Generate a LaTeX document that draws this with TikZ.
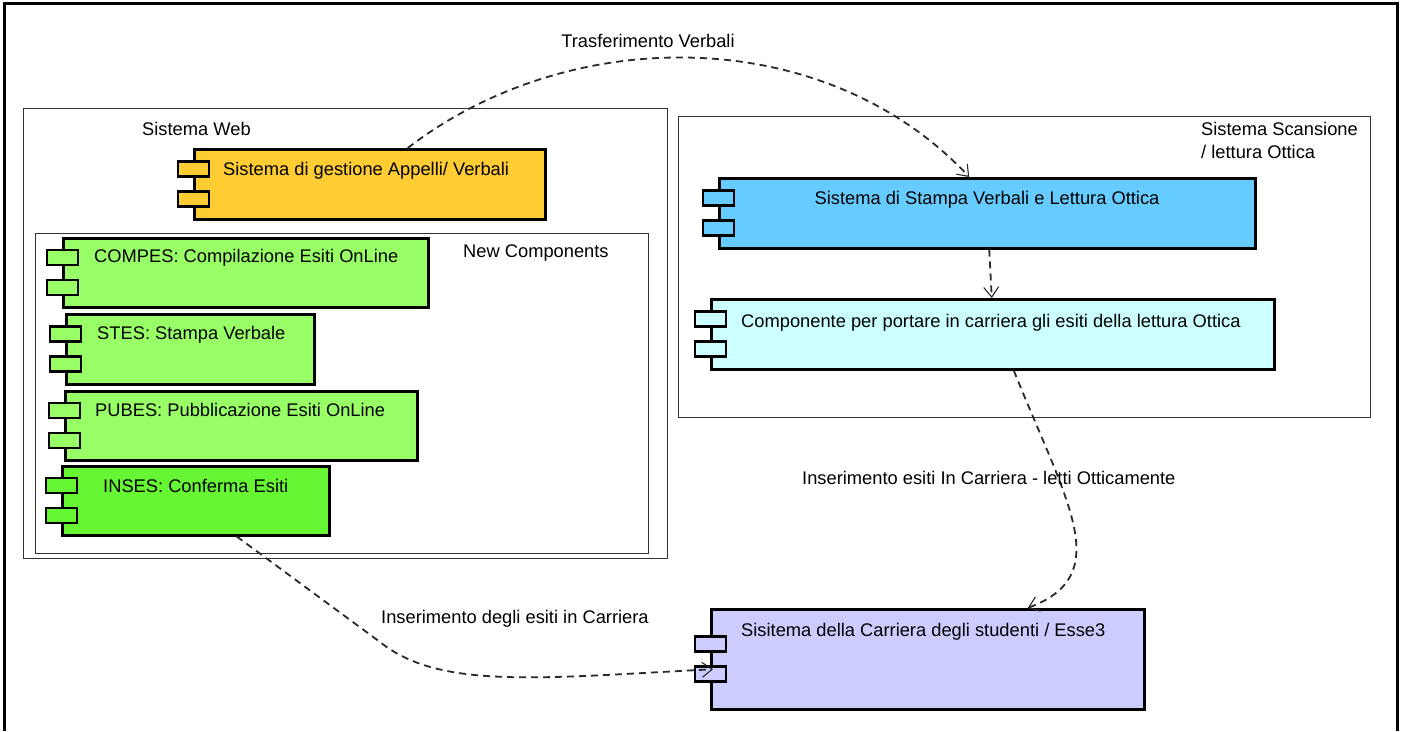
\documentclass[tikz,border=0pt]{standalone}
\usepackage{fontspec}
\setmainfont{Liberation Sans}
\usetikzlibrary{arrows.meta,calc}
\definecolor{gestc}{HTML}{FFCC33}
\definecolor{greenc}{HTML}{99FF66}
\definecolor{insesc}{HTML}{66F633}
\definecolor{stampac}{HTML}{66CCFF}
\definecolor{compoc}{HTML}{CCFFFF}
\definecolor{carrc}{HTML}{CCCCFF}
\definecolor{linec}{HTML}{333333}
\definecolor{depc}{HTML}{2A2A2A}
\newcommand\compports[2]{%
  \draw[port,fill=#2] ($(#1.west)+(-15,-23)$) rectangle ++(31,15);
  \draw[port,fill=#2] ($(#1.west)+(-15,7)$) rectangle ++(31,15);}
\begin{document}
\begin{tikzpicture}[x=1pt,y=-1pt,
  every node/.style={font=\fontsize{18.3}{22}\selectfont, inner sep=0pt},
  body/.style={draw=black, line width=2.5pt, anchor=north west, inner sep=0pt},
  port/.style={draw=black, line width=2.5pt},
  pkg/.style={draw=linec, line width=1.3pt, anchor=north west, inner sep=0pt},
  dep/.style={dash pattern=on 7pt off 5pt, draw=depc, line width=1.8pt,
    -{Straight Barb[length=10pt,width=15pt,line width=1.1pt]}},
  txt/.style={anchor=base west, text=black}
]
\useasboundingbox[fill=white] (0,0) rectangle (1404,731);
% outer frame
\draw[line width=3pt] (4,731) -- (4,3.5) -- (1397,3.5) -- (1397,731);

% packages
\node[pkg, minimum width=644pt, minimum height=450pt] (web) at (23,108) {};
\node[pkg, minimum width=613pt, minimum height=320pt] (newc) at (35,233) {};
\node[pkg, minimum width=692pt, minimum height=301pt] (scan) at (678,116) {};

\node[txt] (webl) at (142,135.5) {Sistema Web};
\node[txt] (newl) at (463,257.5) {New Components};
\node[txt] (scanl1) at (1201,135.5) {Sistema Scansione};
\node[txt] (scanl2) at (1201,158.5) {/ lettura Ottica};

% components
\node[body, fill=gestc, minimum width=351pt, minimum height=70pt] (gest) at (193,148) {};
\compports{gest}{gestc}
\node[txt] (gestt) at (223,175.5) {Sistema di gestione Appelli/ Verbali};

\node[body, fill=greenc, minimum width=365pt, minimum height=69pt] (compes) at (62,237) {};
\compports{compes}{greenc}
\node[txt] (compest) at (94,262.5) {COMPES: Compilazione Esiti OnLine};

\node[body, fill=greenc, minimum width=248pt, minimum height=70pt] (stes) at (65,313) {};
\compports{stes}{greenc}
\node[txt] (stest) at (97,339.5) {STES: Stampa Verbale};

\node[body, fill=greenc, minimum width=352pt, minimum height=69pt] (pubes) at (64,390) {};
\compports{pubes}{greenc}
\node[txt] (pubest) at (95,416.5) {PUBES: Pubblicazione Esiti OnLine};

\node[body, fill=insesc, minimum width=267pt, minimum height=69pt] (inses) at (61,465) {};
\compports{inses}{insesc}
\node[txt] (insest) at (103,492.5) {INSES: Conferma Esiti};

\node[body, fill=stampac, minimum width=536pt, minimum height=70pt] (stampa) at (718,177) {};
\compports{stampa}{stampac}
\node[anchor=base] (stampat) at (987,204.5) {Sistema di Stampa Verbali e Lettura Ottica};

\node[body, fill=compoc, minimum width=563pt, minimum height=70pt] (compo) at (710,298) {};
\compports{compo}{compoc}
\node[txt] (compot) at (741,327.5) {Componente per portare in carriera gli esiti della lettura Ottica};

\node[body, fill=carrc, minimum width=433pt, minimum height=100pt] (carr) at (710,608) {};
\compports{carr}{carrc}
\node[txt] (carrt) at (741,636.5) {Sisitema della Carriera degli studenti / Esse3};

% dependencies
\draw[dep] ([xshift=38pt]gest.north) .. controls (570,23) and (825,23) .. ([xshift=-18pt]stampa.north);
\node[anchor=base] (l1) at (648,47.5) {Trasferimento Verbali};

\draw[dep] ([xshift=2pt]stampa.south) -- ([xshift=-1pt]compo.north);

\draw[dep] ([xshift=21pt]compo.south) .. controls (1068,505) and (1115,575) .. ([xshift=100pt]carr.north);
\node[txt] (l3) at (802,484.5) {Inserimento esiti In Carriera - letti Otticamente};

\draw[dep] ([xshift=41pt]inses.south) -- (380,642) .. controls (440,690) and (540,678) .. ([xshift=3pt,yshift=-10pt]carr.west);
\node[txt] (l4) at (381,623.5) {Inserimento degli esiti in Carriera};
\end{tikzpicture}
\end{document}
